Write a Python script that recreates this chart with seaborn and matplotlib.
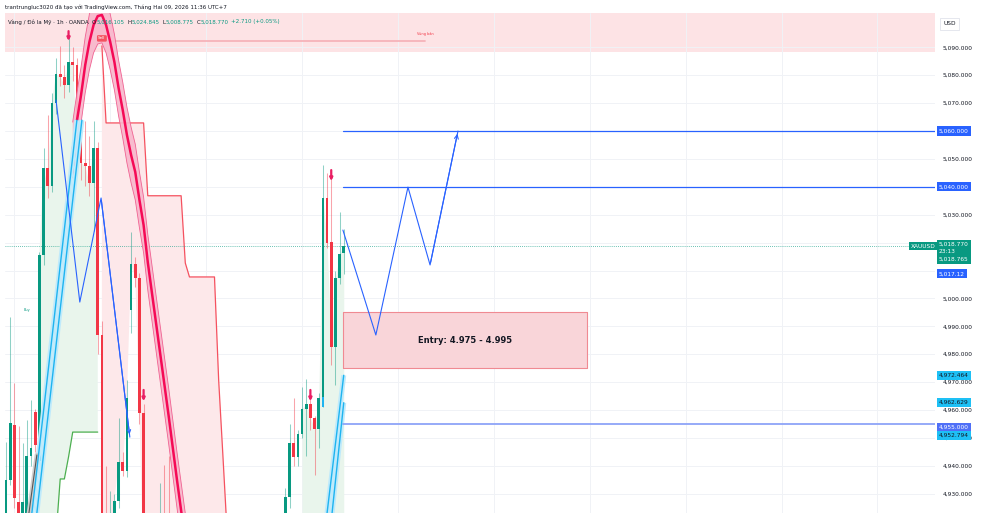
import numpy as np
import pandas as pd
import matplotlib
matplotlib.use("Agg")
import matplotlib.pyplot as plt
import seaborn as sns

sns.set_style("white")
plt.rcParams["font.family"] = ["DejaVu Sans"]

UP = "#089981"
DOWN = "#f23645"
BLUE = "#2962ff"
CYAN = "#1eb4f0"
INK = "#131722"

# 1h candles (bar number, OHLC); bars 34-36 and 40-66 trade below the visible range
bar_idx = [0, 1, 2, 3, 4, 5, 6, 7, 8, 9, 10, 11, 12, 13, 14, 15, 16, 17, 18, 19,
           20, 21, 22, 23, 24, 25, 26, 27, 28, 29, 30, 31, 32, 33, 37, 38, 39,
           67, 68, 69, 70, 71, 72, 73, 74, 75, 76, 77, 78, 79, 80, 81]
opens = [4915.0, 4934.9, 4954.6, 4927.0, 4922.0, 4920.0, 4943.5, 4959.3, 4947.5, 5015.6,
         5046.7, 5040.3, 5070.0, 5080.4, 5079.4, 5076.5, 5084.7, 5083.7, 5060.4, 5048.5,
         5047.5, 5041.4, 5053.9, 4986.9, 4900.0, 4890.0, 4915.0, 4927.4, 4941.4, 4938.1,
         4995.8, 5012.3, 5007.3, 4958.9, 4900.0, 4912.0, 4905.0,
         4915.0, 4928.8, 4948.2, 4943.2, 4951.4, 4960.4, 4962.2, 4957.1, 4953.2, 4964.3,
         5036.0, 5020.2, 4982.6, 5007.3, 5016.105]
highs = [4948.5, 4993.3, 4969.7, 4954.3, 4948.2, 4956.4, 4963.6, 4960.5, 5016.5, 5053.9,
         5065.7, 5073.6, 5086.2, 5090.5, 5083.7, 5094.1, 5090.0, 5086.0, 5063.6, 5063.6,
         5058.2, 5063.6, 5056.0, 4992.0, 4939.9, 4931.0, 4930.0, 4957.1, 4945.0, 4970.8,
         5023.8, 5015.0, 5009.0, 4962.0, 4933.8, 4940.3, 4943.5,
         4932.0, 4955.0, 4964.3, 4953.0, 4968.2, 4971.1, 4964.0, 4958.0, 4966.0, 5047.8,
         5044.9, 5046.0, 5010.0, 5031.0, 5024.845]
lows = [4910.0, 4933.1, 4925.0, 4910.0, 4918.0, 4918.0, 4940.0, 4945.0, 4944.0, 5012.0,
        5036.0, 5038.0, 5066.0, 5076.0, 5072.0, 5074.0, 5078.0, 5055.0, 5042.4, 5040.3,
        5036.7, 5024.2, 4980.0, 4895.0, 4885.0, 4885.0, 4910.0, 4925.0, 4936.3, 4936.0,
        4987.6, 5004.0, 4955.0, 4895.0, 4895.0, 4895.0, 4890.0,
        4910.0, 4925.0, 4940.0, 4940.0, 4950.0, 4943.5, 4953.0, 4936.7, 4946.4, 4961.1,
        5018.0, 4976.1, 4969.0, 5005.0, 5008.775]
closes = [4934.9, 4955.3, 4928.5, 4915.0, 4927.0, 4943.5, 4946.4, 4947.5, 5015.6, 5046.7,
          5040.3, 5070.0, 5080.4, 5079.4, 5076.5, 5084.7, 5083.7, 5060.4, 5048.5, 5047.5,
          5041.4, 5053.9, 4986.9, 4900.0, 4890.0, 4905.0, 4927.4, 4941.4, 4938.1, 4964.3,
          5012.3, 5007.3, 4958.9, 4900.0, 4910.0, 4900.0, 4895.0,
          4928.8, 4948.2, 4943.2, 4951.4, 4960.4, 4962.2, 4957.1, 4953.2, 4964.3, 5036.0,
          5019.9, 4982.6, 5007.3, 5015.9, 5018.770]

# trailing stops
green_bars = [8, 9, 10, 11, 12, 13, 14, 15, 16, 17, 18, 19, 20, 21, 22]
green_trail = [4890.0, 4895.0, 4900.0, 4905.0, 4915.0, 4935.3, 4935.3, 4943.2, 4952.1,
               4952.1, 4952.1, 4952.1, 4952.1, 4952.1, 4952.1]
red_bars = list(range(23, 54))
red_trail = [5090.5, 5062.9, 5062.9, 5062.9, 5062.9, 5062.9, 5062.9, 5062.9, 5062.9,
             5062.9, 5062.9, 5036.8, 5036.8, 5036.8, 5036.8, 5036.8, 5036.8, 5036.8,
             5036.8, 5036.8, 5012.7, 5007.7, 5007.7, 5007.7, 5007.7, 5007.7, 5007.7,
             5007.7, 4970.8, 4944.2, 4917.0]
green2_bars = [71, 72, 73, 74, 75, 76, 77, 78, 79, 80, 81]
green2_trail = [4905.0, 4905.0, 4905.0, 4905.0, 4905.0, 4905.0, 4905.0, 4905.0, 4905.0,
                4905.0, 4905.0]

# magenta curve band
band_bars = [16, 17, 18, 19, 20, 21, 22, 23, 24, 25, 26, 27, 28, 29, 30, 31, 32, 33,
             34, 35, 36, 37, 38, 39, 40, 41, 42, 43]
band_mid = [5053.2, 5063.6, 5072.9, 5083.7, 5091.9, 5098.0, 5101.2, 5101.6, 5098.0,
            5091.9, 5084.7, 5075.4, 5067.5, 5058.6, 5051.4, 5045.3, 5035.3, 5026.3,
            5013.0, 5002.0, 4991.0, 4980.0, 4969.0, 4958.0, 4946.5, 4935.0, 4924.0, 4913.0]
band_half = 10.0

# drawings
cyan_lines = [([6.2, 17.0], [4923.1, 5063.9]), ([7.4, 18.2], [4923.1, 5063.9]),
              ([77.0, 81.0], [4923.1, 4972.464]), ([78.2, 81.0], [4923.1, 4962.629])]
gray_x, gray_y = [5.5, 7.4], [4923.1, 4943.9]
zig_x = [12.0, 17.7, 22.8, 29.7]
zig_y = [5071.1, 4998.7, 5036.0, 4950.3]
plan_x = [80.8, 88.7, 96.4, 101.7, 108.4]
plan_y = [5024.5, 4986.9, 5039.9, 5012.0, 5060.0]
levels = [5060.0, 5040.0, 4955.0]
level_start = 80.8
entry_x = [80.8, 139.3]
entry_lo, entry_hi = 4975.0, 4995.0
sell_zone = [5088.5, 5110.0]
sell_line_x, sell_line_y = [22.2, 100.5], 5092.3
arrow_bars = [15, 33, 73, 78]
arrow_top = [5095.8, 4967.2, 4967.2, 5046.0]
arrow_bot = [5092.3, 4963.2, 4963.2, 5042.1]
mark_bars = [8, 76]
mark_lo = [4941.7, 4961.1]
mark_hi = [4945.3, 4964.6]
last_price = 5018.770
yticks = list(range(4930, 5091, 10))
hidden_ticks = [5060, 5040, 5020, 5010]  # covered by the price tags
vgrid = [2, 25, 48, 71, 94, 117, 140, 163, 186, 209]

df = pd.DataFrame({"o": opens, "h": highs, "l": lows, "c": closes}, index=bar_idx)
close_at = df["c"].reindex(range(0, 82)).fillna(4900.0)

fig = plt.figure(figsize=(9.82, 5.13), dpi=100)
ax = fig.add_axes([5 / 982, 0, 930 / 982, 500 / 513])
ax.set_xlim(-0.24, 222.8)
ax.set_ylim(4923.1, 5102.3)

# grid and axis
ax.set_yticks(yticks)
ax.set_yticklabels(["" if v in hidden_ticks else f"{v:,.3f}" for v in yticks])
ax.yaxis.tick_right()
ax.set_xticks(vgrid)
ax.set_xticklabels([])
ax.tick_params(length=0, labelsize=4.2, labelcolor=INK, pad=5.8)
ax.grid(True, color="#f0f2f6", lw=0.7)
for s in ax.spines.values():
    s.set_visible(False)

# sell zone on top
ax.axhspan(*sell_zone, color="#fde3e5", zorder=0.5, lw=0)
ax.plot(sell_line_x, [sell_line_y] * 2, color="#f6b3b9", lw=1.3, zorder=1)
ax.text(100.5, 5094.6, "Vùng bán", fontsize=2.5, color=DOWN, ha="center", va="center")

# trailing-stop fills and lines
gc = close_at.loc[green_bars].values
ax.fill_between(green_bars, green_trail, np.maximum(gc, green_trail), color="#e9f5ec", lw=0, zorder=1)
rc = close_at.loc[red_bars].values
ax.fill_between(red_bars, red_trail, np.minimum(rc, red_trail), color="#fde8ea", lw=0, zorder=1)
g2c = close_at.loc[green2_bars].values
ax.fill_between(green2_bars, green2_trail, g2c, color="#e9f5ec", lw=0, zorder=1)
sns.lineplot(x=green_bars, y=green_trail, ax=ax, color="#4caf50", lw=0.9, sort=False, zorder=2)
sns.lineplot(x=red_bars, y=red_trail, ax=ax, color="#f5515f", lw=0.9, sort=False, zorder=2)

# last price dotted line
ax.axhline(last_price, color=UP, lw=0.6, ls=(0, (1, 1.5)), alpha=0.8, zorder=2)

# candles
for part, col in ((df[df.c >= df.o], UP), (df[df.c < df.o], DOWN)):
    ax.vlines(part.index, part.l, part.h, color=col, lw=0.75, alpha=0.45, zorder=3)
    ax.bar(part.index, (part.c - part.o).abs().clip(lower=0.6),
           bottom=np.minimum(part.o, part.c), width=0.65, color=col, lw=0, zorder=4)
ax.bar(mark_bars, np.array(mark_hi) - np.array(mark_lo), bottom=mark_lo,
       width=0.65, color=CYAN, lw=0, zorder=4.5)

# magenta band
bm = np.array(band_mid)
ax.fill_between(band_bars, bm - band_half, bm + band_half, color="#f8b6cb", alpha=0.9, lw=0, zorder=5)
ax.plot(band_bars, bm - band_half, color="#f06292", lw=0.6, zorder=5)
ax.plot(band_bars, bm + band_half, color="#f06292", lw=0.6, zorder=5)
sns.lineplot(x=band_bars, y=band_mid, ax=ax, color="#f50a56", lw=1.8, sort=False, zorder=5.5)

# cyan channel lines
for xs, ys in cyan_lines:
    ax.plot(xs, ys, color="#bfeafb", lw=3.6, solid_capstyle="butt", zorder=6)
    ax.plot(xs, ys, color=CYAN, lw=1.0, zorder=6.1)
ax.plot(gray_x, gray_y, color="#cfcfcf", lw=3.2, zorder=6)
ax.plot(gray_x, gray_y, color="#555555", lw=0.8, zorder=6.1)

# zigzags
sns.lineplot(x=zig_x, y=zig_y, ax=ax, color=BLUE, lw=0.8, sort=False, zorder=7)
ax.annotate("", xy=(zig_x[-1], zig_y[-1]), xytext=(zig_x[-2], zig_y[-2]),
            arrowprops=dict(arrowstyle="->", color=BLUE, lw=0.8, mutation_scale=6), zorder=7)
sns.lineplot(x=plan_x, y=plan_y, ax=ax, color=BLUE, lw=0.8, sort=False, zorder=7)
ax.annotate("", xy=(plan_x[-1], plan_y[-1]), xytext=(plan_x[-2], plan_y[-2]),
            arrowprops=dict(arrowstyle="->", color=BLUE, lw=0.8, mutation_scale=7), zorder=7)

# levels
for lv in levels:
    if lv == 4955.0:
        ax.plot([level_start, 222.8], [lv, lv], color="#8ea4f8", lw=1.3, zorder=6)
    else:
        ax.plot([level_start, 222.8], [lv, lv], color=BLUE, lw=0.9, zorder=6)

# entry zone
ax.fill_between(entry_x, entry_lo, entry_hi, color="#f9d5d9", lw=0, zorder=5)
ax.plot([entry_x[0], entry_x[1], entry_x[1], entry_x[0], entry_x[0]],
        [entry_lo, entry_lo, entry_hi, entry_hi, entry_lo], color="#f08a92", lw=0.8, zorder=5.1)
ax.text(sum(entry_x) / 2, (entry_lo + entry_hi) / 2, "Entry: 4.975 - 4.995",
        fontsize=6, fontweight="bold", color=INK, ha="center", va="center", zorder=8)

# signal arrows and labels
for b, t, bt in zip(arrow_bars, arrow_top, arrow_bot):
    ax.annotate("", xy=(b, bt), xytext=(b, t),
                arrowprops=dict(arrowstyle="-|>", color="#e91e63", lw=1.6, mutation_scale=4,
                                shrinkA=0, shrinkB=0), zorder=9)
ax.text(23, 5093.2, "Sell", fontsize=3, color="white", ha="center", va="center", zorder=9,
        bbox=dict(boxstyle="round,pad=0.3", fc="#f5515f", ec="none"))
ax.text(5, 4995.8, "Buy", fontsize=2.5, color=UP, ha="center", va="center", zorder=9)

# price-scale tags
ytr = ax.get_yaxis_transform()


def tag(y, s, fc, tc="white", dy=0, ls=1.2, va="center"):
    ax.annotate(s, xy=(1.0, y), xycoords=ytr, xytext=(2.9, dy), textcoords="offset points",
                fontsize=4.2, color=tc, ha="left", va=va, linespacing=ls, annotation_clip=False,
                zorder=12, bbox=dict(boxstyle="square,pad=0.35", fc=fc, ec="none"))


tag(5060.0, "5,060.000", BLUE)
tag(5040.0, "5,040.000", BLUE)
tag(last_price, "5,018.770\n23:13\n5,018.765", UP, dy=3.2, ls=1.65, va="top")
tag(last_price, "5,017.12", BLUE, dy=-20.0)
tag(4972.464, "4,972.464", "#1ec0f5", tc=INK)
tag(4962.629, "4,962.629", "#1ec0f5", tc=INK)
tag(4955.0, "4,955.000", "#4f6ff7", dy=-2.2)
tag(4952.794, "4,952.794", "#1ec0f5", tc=INK, dy=-3.6)
ax.annotate("XAUUSD", xy=(1.0, last_price), xycoords=ytr, xytext=(0.5, 0), textcoords="offset points",
            fontsize=4.2, color="white", ha="right", va="center", annotation_clip=False, zorder=12,
            bbox=dict(boxstyle="square,pad=0.3", fc=UP, ec="none"))

# header texts
fig.text(5 / 982, 1 - 7 / 513, "trantrungluc3020 đã tạo với TradingView.com, Tháng Hai 09, 2026 11:36 UTC+7",
         fontsize=4.0, color=INK, va="center")
pieces = [("Vàng / Đô la Mỹ · 1h · OANDA", INK, 0), ("O", INK, 2.2), ("5,016.105", UP, 0),
          ("H", INK, 2.2), ("5,024.845", UP, 0), ("L", INK, 2.2), ("5,008.775", UP, 0),
          ("C", INK, 2.2), ("5,018.770", UP, 0), ("+2.710 (+0.05%)", UP, 2.2)]
prev = fig.text(8 / 982, 1 - 22 / 513, pieces[0][0], fontsize=4.0, color=pieces[0][1], va="center",
                zorder=20)
for s, col, gap in pieces[1:]:
    prev = ax.annotate(s, xy=(1, 0.5), xycoords=prev, xytext=(gap, 0), textcoords="offset points",
                       fontsize=4.0, color=col, ha="left", va="center", annotation_clip=False,
                       zorder=20)
fig.text(943 / 982, 1 - 23.5 / 513, "USD", fontsize=4.2, color=INK, va="center",
         bbox=dict(boxstyle="square,pad=0.6", fc="white", ec="#e0e3eb", lw=0.6))

fig.savefig("out.png", dpi=100)
